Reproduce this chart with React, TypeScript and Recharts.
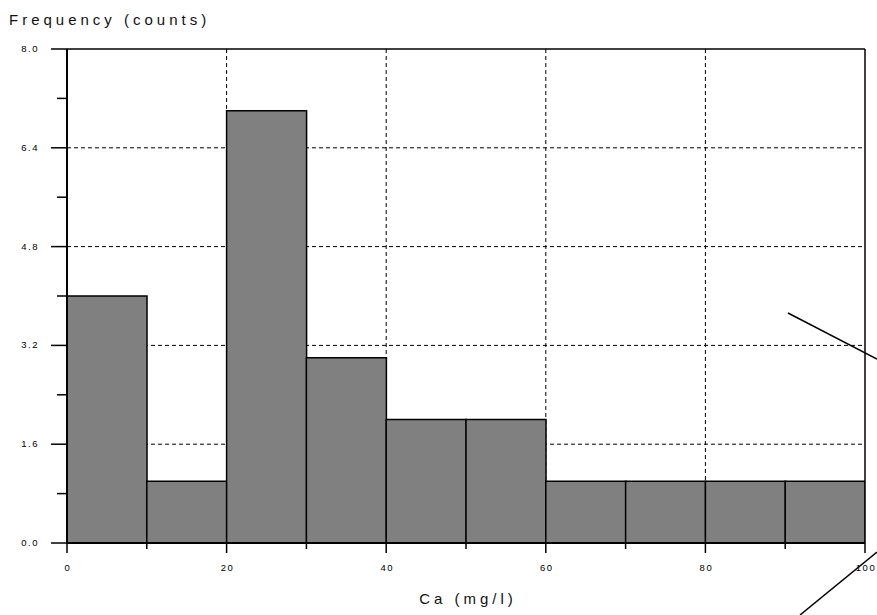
import { Bar, BarChart, CartesianGrid, ReferenceLine, XAxis, YAxis } from "recharts"

const binStarts = [0, 10, 20, 30, 40, 50, 60, 70, 80, 90]
const counts = [4, 1, 7, 3, 2, 2, 1, 1, 1, 1]
const xTicks = [0, 10, 20, 30, 40, 50, 60, 70, 80, 90, 100]
const xGrid = [20, 40, 60, 80]
const yTicks = [0, 0.8, 1.6, 2.4, 3.2, 4.0, 4.8, 5.6, 6.4, 7.2, 8.0]
const yGrid = [1.6, 3.2, 4.8, 6.4]

// bars sit at the middle of each 10 mg/l bin
const data = binStarts.map((start, i) => ({
  mid: start + 5,
  count: counts[i],
}))

const font = "'Liberation Sans', Arial, sans-serif"

function XTick(props: any) {
  const { x, y, payload } = props
  const major = payload.value % 20 === 0
  return (
    <g>
      <line x1={x} y1={y} x2={x} y2={y + (major ? 10 : 6)} stroke="#000" strokeWidth={1.5} />
      {major && (
        <text x={x + 1} y={y + 28} textAnchor="middle" fontSize={9.5} letterSpacing={1.5} fontFamily={font} fill="#000">
          {payload.value}
        </text>
      )}
    </g>
  )
}

function YTick(props: any) {
  const { x, y, payload } = props
  const major = Math.round(payload.value * 10) % 16 === 0
  return (
    <g>
      <line x1={x - (major ? 16 : 10)} y1={y} x2={x} y2={y} stroke="#000" strokeWidth={1.5} />
      {major && (
        <text x={x - 28} y={y + 3} textAnchor="end" fontSize={9.5} letterSpacing={1.5} fontFamily={font} fill="#000">
          {payload.value.toFixed(1)}
        </text>
      )}
    </g>
  )
}

export default function App() {
  return (
    <div style={{ position: "absolute", left: 0, top: 0, width: 877, height: 615, background: "#fff" }}>
      <BarChart
        width={877}
        height={615}
        data={data}
        margin={{ top: 49, right: 12, left: 7, bottom: 0 }}
        barCategoryGap={0}
        barGap={0}
      >
        <CartesianGrid
          horizontalValues={yGrid}
          verticalValues={xGrid}
          stroke="#000"
          strokeDasharray="4 3"
        />
        <XAxis
          dataKey="mid"
          type="number"
          domain={[0, 100]}
          ticks={xTicks}
          interval={0}
          height={72}
          tickSize={0}
          tickMargin={0}
          tickLine={false}
          tick={<XTick />}
          axisLine={{ stroke: "#000", strokeWidth: 2 }}
          allowDataOverflow
        />
        <YAxis
          domain={[0, 8]}
          ticks={yTicks}
          interval={0}
          width={60}
          tickSize={0}
          tickMargin={0}
          tickLine={false}
          tick={<YTick />}
          axisLine={{ stroke: "#000", strokeWidth: 2 }}
          allowDataOverflow
        />
        <Bar
          dataKey="count"
          fill="#808080"
          stroke="#000"
          strokeWidth={1.5}
          isAnimationActive={false}
        />
        <ReferenceLine y={8} stroke="#000" strokeWidth={1.5} />
        <ReferenceLine x={100} stroke="#000" strokeWidth={1.5} />
      </BarChart>
      <svg
        width={877}
        height={615}
        style={{ position: "absolute", left: 0, top: 0, pointerEvents: "none" }}
      >
        <text x={9} y={25} fontSize={15} letterSpacing={4} fontFamily={font} fill="#111">
          Frequency (counts)
        </text>
        <text x={468} y={604} textAnchor="middle" fontSize={15} letterSpacing={4} fontFamily={font} fill="#111">
          Ca (mg/l)
        </text>
        <line x1={788} y1={313} x2={877} y2={359} stroke="#000" strokeWidth={1.5} />
        <line x1={800} y1={615} x2={877} y2={552} stroke="#000" strokeWidth={1.5} />
      </svg>
    </div>
  )
}
